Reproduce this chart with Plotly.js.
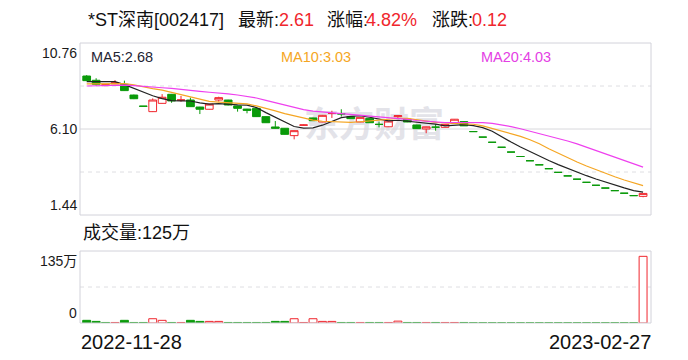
<!DOCTYPE html>
<html>
<head>
<meta charset="utf-8">
<script src="https://cdn.plot.ly/plotly-3.0.1.min.js"></script>
<style>
html,body{margin:0;padding:0;background:#fff;}
#chart{width:688px;height:360px;}
</style>
</head>
<body>
<div id="chart"></div>
<script>
// ---------------- data ----------------
const stockTitle = '*ST深南[002417]';
const dates = [
 '2022-11-28','2022-11-29','2022-11-30',
 '2022-12-01','2022-12-02','2022-12-05','2022-12-06','2022-12-07','2022-12-08','2022-12-09',
 '2022-12-12','2022-12-13','2022-12-14','2022-12-15','2022-12-16','2022-12-19','2022-12-20',
 '2022-12-21','2022-12-22','2022-12-23','2022-12-26','2022-12-27','2022-12-28','2022-12-29','2022-12-30',
 '2023-01-03','2023-01-04','2023-01-05','2023-01-06','2023-01-09','2023-01-10','2023-01-11','2023-01-12',
 '2023-01-13','2023-01-16','2023-01-17','2023-01-18','2023-01-19','2023-01-20','2023-01-30','2023-01-31',
 '2023-02-01','2023-02-02','2023-02-03','2023-02-06','2023-02-07','2023-02-08','2023-02-09','2023-02-10',
 '2023-02-13','2023-02-14','2023-02-15','2023-02-16','2023-02-17','2023-02-20','2023-02-21','2023-02-22',
 '2023-02-23','2023-02-24','2023-02-27'
];
const openP = [8.97,8.74,8.45,8.55,8.52,7.94,7.34,7.04,7.49,7.98,
 7.67,7.67,7.29,7.17,7.67,7.67,7.35,7.18,7.22,6.77,
 6.21,6.14,5.74,6.30,6.70,6.48,6.94,6.92,6.77,6.48,
 6.68,6.35,6.22,6.77,6.63,6.32,6.10,6.20,6.19,6.41,
 6.50,5.96,5.66,5.38,5.11,4.85,4.61,4.38,4.16,3.95,
 3.75,3.56,3.38,3.21,3.05,2.90,2.76,2.62,2.49,2.45];
const highP = [9.02,8.85,8.53,8.75,8.72,7.96,7.34,7.76,7.99,8.00,
 7.89,7.80,7.30,7.46,7.85,7.68,7.36,7.19,7.23,6.78,
 6.53,6.15,6.02,6.34,6.71,6.86,7.09,7.17,6.78,6.74,
 6.69,6.50,6.54,6.84,6.64,6.33,6.23,6.37,6.36,6.64,
 6.52,5.96,5.66,5.38,5.11,4.85,4.61,4.38,4.16,3.95,
 3.75,3.56,3.38,3.21,3.05,2.90,2.76,2.62,2.49,2.61];
const lowP = [8.70,8.45,8.44,8.53,8.16,7.72,7.32,7.02,7.48,7.52,
 7.58,7.30,6.91,7.16,7.58,7.38,7.04,6.95,6.76,6.43,
 6.13,5.80,5.54,6.29,6.54,6.47,6.70,6.77,6.65,6.47,
 6.43,6.19,6.21,6.70,6.47,6.11,5.87,6.01,6.18,6.40,
 6.27,5.96,5.66,5.38,5.11,4.85,4.61,4.38,4.16,3.95,
 3.75,3.56,3.38,3.21,3.05,2.90,2.76,2.62,2.49,2.40];
const closeP = [8.72,8.52,8.50,8.60,8.18,7.74,7.33,7.67,7.82,7.62,
 7.67,7.31,7.17,7.45,7.80,7.40,7.22,7.11,6.77,6.44,
 6.14,5.81,6.01,6.32,6.55,6.84,6.94,6.92,6.66,6.73,
 6.44,6.35,6.53,6.82,6.48,6.12,6.22,6.20,6.35,6.63,
 6.27,5.96,5.66,5.38,5.11,4.85,4.61,4.38,4.16,3.95,
 3.75,3.56,3.38,3.21,3.05,2.90,2.76,2.62,2.49,2.61];
// closes of the 19 sessions before the window (estimated from the MA start levels)
const priorCloses = [8.10,8.20,8.25,8.30,8.35,8.30,8.40,8.35,8.38,8.47,
 8.45,8.40,8.38,8.44,8.48,8.53,8.50,8.60,9.00];
// volume, unit: 万 (10k shares)
const volume = [5,3,1,1,5,1,1,8,5,1,
 1,5,3,3,3,1,1,1,1,1,
 3,3,8,1,8,3,3,1,1,1,
 1,1,1,3.5,1,1,1,1,1,1,
 1,0.5,0.5,0.5,0.5,0.5,0.5,0.5,0.5,0.5,
 0.5,0.5,0.5,0.5,0.5,0.5,0.5,0.5,0.5,125];
const priceAxis = [1.44, 10.76];
const volAxis = [0, 135];
const maPeriods = [5, 10, 20];

// ---------------- styles ----------------
const RED = '#f0262d', GREEN = '#0a9a0a';
const MA_COLORS = ['#222222', '#f5a623', '#ee40ee'];
const MA_LABEL_COLORS = ['#1f2533', '#f5a623', '#e440e4'];
const LATIN = "'Liberation Sans', Arial, 'Noto Sans CJK SC', sans-serif";
const W = 688, H = 360, ML = 80, MR = 37, MT = 43, MB = 37;
const PW = W - ML - MR, PH = H - MT - MB;
const PX = px => (px - ML) / PW;
const PY = py => (H - MB - py) / PH;

// ---------------- derived ----------------
const allCloses = priorCloses.concat(closeP);
const off = priorCloses.length;
function movingAvg(n) {
  return closeP.map((_, i) => {
    let s = 0;
    for (let k = 0; k < n; k++) s += allCloses[off + i - k];
    return s / n;
  });
}
const mas = maPeriods.map(movingAvg);
const prevClose = closeP.map((c, i) => allCloses[off + i - 1]);
const volUp = closeP.map((c, i) => c > prevClose[i]);
const last = closeP.length - 1;
const latest = closeP[last];
const chg = closeP[last] - closeP[last - 1];
const chgPct = chg / closeP[last - 1] * 100;

// ---------------- traces ----------------
const traces = [];
traces.push({
  type: 'candlestick', x: dates, open: openP, high: highP, low: lowP, close: closeP,
  xaxis: 'x', yaxis: 'y', whiskerwidth: 0,
  increasing: {line: {color: RED, width: 1}, fillcolor: '#ffffff'},
  decreasing: {line: {color: GREEN, width: 1}, fillcolor: GREEN},
  hoverinfo: 'skip'
});
mas.forEach((m, k) => traces.push({
  type: 'scatter', mode: 'lines', x: dates, y: m, xaxis: 'x', yaxis: 'y',
  line: {color: MA_COLORS[k], width: 1.2}, hoverinfo: 'skip'
}));
traces.push({
  type: 'bar', x: dates, y: volume, xaxis: 'x2', yaxis: 'y2',
  marker: {
    color: volUp.map(u => u ? '#ffffff' : GREEN),
    line: {color: volUp.map(u => u ? RED : GREEN), width: 1}
  },
  hoverinfo: 'skip'
});

// ---------------- annotations ----------------
function ann(text, px, py, opt) {
  return Object.assign({
    text: text, xref: 'paper', yref: 'paper', x: PX(px), y: PY(py),
    xanchor: 'left', yanchor: 'middle', showarrow: false,
    font: {family: LATIN, size: 14, color: '#111'}
  }, opt || {});
}
const annotations = [];
// header
annotations.push(ann(stockTitle, 86, 20, {font: {family: LATIN, size: 18, color: '#111'}}));
annotations.push(ann('最新:', 236, 20, {font: {family: LATIN, size: 18, color: '#111'}}));
annotations.push(ann(latest.toFixed(2), 277, 20, {font: {family: LATIN, size: 18, color: RED}}));
annotations.push(ann('涨幅:', 325, 20, {font: {family: LATIN, size: 18, color: '#111'}}));
annotations.push(ann(chgPct.toFixed(2) + '%', 364, 20, {font: {family: LATIN, size: 18, color: RED}}));
annotations.push(ann('涨跌:', 430, 20, {font: {family: LATIN, size: 18, color: '#111'}}));
annotations.push(ann(chg.toFixed(2), 470, 20, {font: {family: LATIN, size: 18, color: RED}}));
// MA labels
const maLabelX = [89, 279, 479];
maPeriods.forEach((n, k) => annotations.push(ann('MA' + n + ':' + mas[k][last].toFixed(2), maLabelX[k], 57,
  {font: {family: LATIN, size: 14.5, color: MA_LABEL_COLORS[k]}})));
// price axis labels
const priceMid = (priceAxis[0] + priceAxis[1]) / 2;
[[priceAxis[1], 'top'], [priceMid, 'middle'], [priceAxis[0], 'bottom']].forEach(([v, a]) =>
  annotations.push({text: v.toFixed(2), xref: 'paper', yref: 'y', x: 0, y: v, xanchor: 'right', yanchor: a,
    xshift: -1, showarrow: false, font: {family: LATIN, size: 14, color: '#1a1a1a'}}));
// volume header + axis labels
annotations.push(ann('成交量:' + volume[last] + '万', 81, 233, {font: {family: LATIN, size: 18, color: '#111'}}));
annotations.push({text: volAxis[1] + '万', xref: 'paper', yref: 'y2', x: 0, y: volAxis[1], xanchor: 'right', yanchor: 'top',
  xshift: -1, showarrow: false, font: {family: LATIN, size: 14, color: '#1a1a1a'}});
annotations.push({text: String(volAxis[0]), xref: 'paper', yref: 'y2', x: 0, y: volAxis[0], xanchor: 'right', yanchor: 'bottom',
  xshift: -1, showarrow: false, font: {family: LATIN, size: 14, color: '#1a1a1a'}});
// date labels
annotations.push({text: dates[0], xref: 'paper', yref: 'paper', x: 0, y: PY(342), xanchor: 'left', yanchor: 'middle',
  xshift: -1, showarrow: false, font: {family: LATIN, size: 20, color: '#111'}});
annotations.push({text: dates[last], xref: 'paper', yref: 'paper', x: 1, y: PY(342), xanchor: 'right', yanchor: 'middle',
  xshift: 2, showarrow: false, font: {family: LATIN, size: 20, color: '#111'}});

// ---------------- shapes ----------------
const GRID = '#d8d8dc', BORDER = '#d2d2da';
const shapes = [
  {type: 'rect', xref: 'paper', yref: 'paper', x0: PX(286), x1: PX(462), y0: PY(148), y1: PY(106),
   line: {width: 0}, fillcolor: 'rgba(0,0,0,0)', layer: 'below',
   label: {text: '东方财富', textposition: 'middle center',
     font: {family: "'Noto Sans CJK SC', sans-serif", size: 35, color: '#e3e3e9', weight: 'bold'}}},
  {type: 'line', xref: 'paper', x0: 0, x1: 1, yref: 'y domain', y0: 0.5, y1: 0.5, line: {color: GRID, width: 1}, layer: 'below'},
  {type: 'line', xref: 'paper', x0: 0, x1: 1, yref: 'y domain', y0: 0.25, y1: 0.25, line: {color: '#dedee2', width: 1, dash: '4px,4px'}, layer: 'below'},
  {type: 'line', xref: 'paper', x0: 0, x1: 1, yref: 'y domain', y0: 0.75, y1: 0.75, line: {color: '#dedee2', width: 1, dash: '4px,4px'}, layer: 'below'},
  {type: 'line', xref: 'paper', x0: 0, x1: 1, yref: 'y2 domain', y0: 0.5, y1: 0.5, line: {color: '#dedee2', width: 1, dash: '4px,4px'}, layer: 'below'},
  {type: 'rect', xref: 'paper', x0: 0, x1: 1, yref: 'y domain', y0: 0, y1: 1, line: {color: BORDER, width: 1}, fillcolor: 'rgba(0,0,0,0)', layer: 'above'},
  {type: 'rect', xref: 'paper', x0: 0, x1: 1, yref: 'y2 domain', y0: 0, y1: 1, line: {color: BORDER, width: 1}, fillcolor: 'rgba(0,0,0,0)', layer: 'above'}
];

// ---------------- layout ----------------
const xr = [-0.71, 59.84];
const layout = {
  width: W, height: H,
  margin: {l: ML, r: MR, t: MT, b: MB, pad: 0},
  paper_bgcolor: '#ffffff', plot_bgcolor: '#ffffff',
  showlegend: false, hovermode: false,
  boxgap: 0.18, boxgroupgap: 0, bargap: 0.16,
  xaxis: {type: 'category', range: xr, anchor: 'y', showticklabels: false, showgrid: false, zeroline: false,
          showline: false, ticks: '', rangeslider: {visible: false}},
  xaxis2: {type: 'category', range: xr, anchor: 'y2', matches: 'x', showticklabels: false, showgrid: false,
           zeroline: false, showline: false, ticks: ''},
  yaxis: {domain: [PY(215), 1], range: priceAxis, showticklabels: false, showgrid: false, zeroline: false,
          showline: false, ticks: ''},
  yaxis2: {domain: [0, PY(251)], range: volAxis, showticklabels: false, showgrid: false, zeroline: false,
           showline: false, ticks: ''},
  annotations: annotations,
  shapes: shapes
};

Plotly.newPlot('chart', traces, layout, {staticPlot: true, displayModeBar: false});
</script>
</body>
</html>
